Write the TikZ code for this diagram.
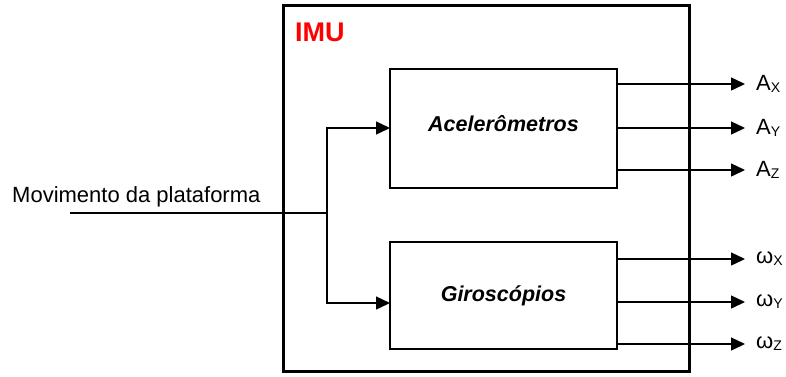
\documentclass[tikz,border=0pt]{standalone}
\usepackage{fontspec}
\setmainfont{Liberation Sans}
\usetikzlibrary{arrows.meta}
\newcommand{\sub}[1]{\raisebox{-2pt}{\fontsize{14}{14}\selectfont #1}}
\begin{document}
\begin{tikzpicture}[x=1pt,y=-1pt,
  frame/.style={draw, line width=3pt, inner sep=0pt},
  blk/.style={draw, line width=1.8pt, inner sep=0pt, align=center,
    font=\fontsize{21.5}{21.5}\selectfont\bfseries\itshape},
  wire/.style={line width=1.4pt},
  arr/.style={wire, -{Triangle[length=14pt,width=13pt]}},
  outlbl/.style={anchor=west, inner sep=0pt, font=\fontsize{22}{22}\selectfont}]
\useasboundingbox (0,0) rectangle (786,376);

% IMU enclosure
\node[frame, minimum width=406pt, minimum height=366pt] (imu) at (486,188.5) {};
\node[anchor=base west, inner sep=0pt, text=red,
  font=\fontsize{27}{27}\selectfont\bfseries] (imulbl) at (295,41.5) {IMU};

% sensor blocks
\node[blk, minimum width=227pt, minimum height=119pt] (acc) at (503.5,128.5)
  {\raisebox{10pt}{Acelerômetros}};
\node[blk, minimum width=227pt, minimum height=107pt] (gyr) at (503.5,295.5)
  {Giroscópios};

% input
\node[anchor=base west, inner sep=0pt, font=\fontsize{22}{22}\selectfont]
  (inlbl) at (12,202) {Movimento da plataforma};
\coordinate (in) at (70,213);
\coordinate (split) at (327,213);
\coordinate (accin) at (390,128);
\coordinate (gyrin) at (390,303);
\draw[wire] (in) -- (split);
\draw[arr] (split) |- (accin);
\draw[arr] (split) |- (gyrin);

% accelerometer outputs
\coordinate (a1) at (617,84);
\coordinate (a2) at (617,128);
\coordinate (a3) at (617,170);
\node[outlbl] (ax) at (756,84) {A\sub{X}};
\node[outlbl] (ay) at (756,128) {A\sub{Y}};
\node[outlbl] (az) at (756,170) {A\sub{Z}};
\draw[arr] (a1) -- (ax.west -| 745,0);
\draw[arr] (a2) -- (ay.west -| 745,0);
\draw[arr] (a3) -- (az.west -| 745,0);

% gyroscope outputs
\coordinate (g1) at (617,259);
\coordinate (g2) at (617,302);
\coordinate (g3) at (617,344);
\node[outlbl] (wx) at (756,259) {ω\sub{X}};
\node[outlbl] (wy) at (756,302) {ω\sub{Y}};
\node[outlbl] (wz) at (756,344) {ω\sub{Z}};
\draw[arr] (g1) -- (wx.west -| 745,0);
\draw[arr] (g2) -- (wy.west -| 745,0);
\draw[arr] (g3) -- (wz.west -| 745,0);
\end{tikzpicture}
\end{document}
